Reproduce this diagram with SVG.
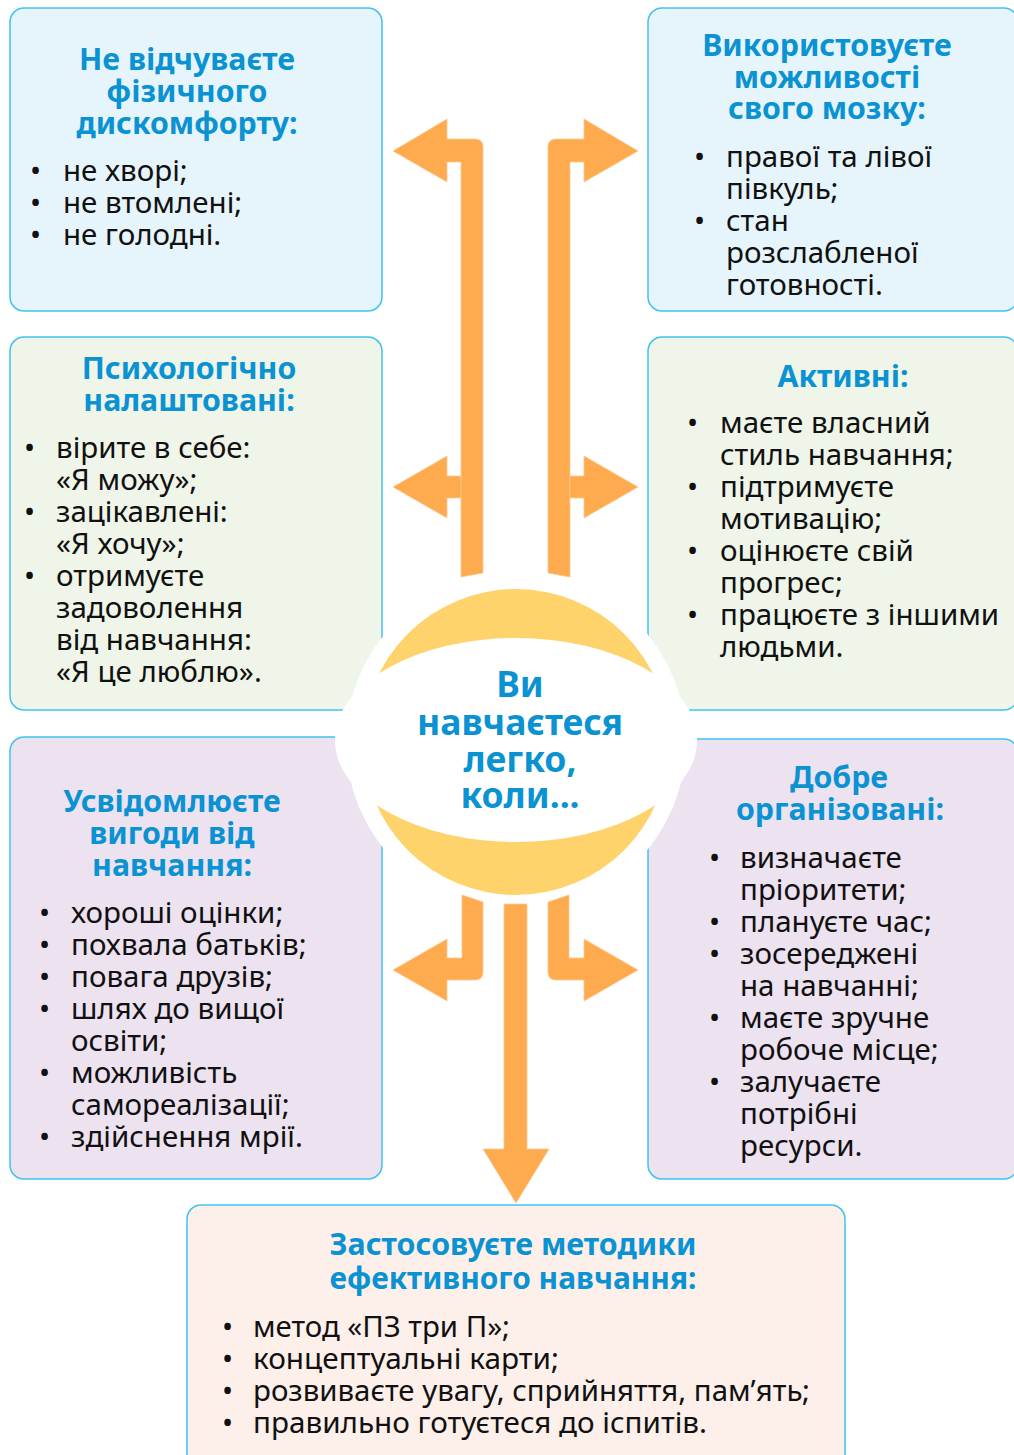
<svg xmlns="http://www.w3.org/2000/svg" width="1014" height="1455" viewBox="0 0 1014 1455">
<style>
.box{stroke:#3EC3EF;stroke-width:1.5}
.blue{fill:#E6F5FC}.green{fill:#EFF5E8}.lav{fill:#EDE2F0}.peach{fill:#FDEFEA}
.t{font-family:"Noto Sans","Open Sans",sans-serif;font-weight:bold;font-size:30.3px;fill:#0A92D2;text-anchor:middle}
.b{font-family:"Noto Sans","Open Sans",sans-serif;font-size:29.5px;fill:#111}
.c{font-family:"Noto Sans","Open Sans",sans-serif;font-weight:bold;font-size:35.5px;fill:#0A92D2;text-anchor:middle}
.arr{fill:#FEAB50;stroke:#FFC890;stroke-width:0.8}
</style>
<rect width="1014" height="1455" fill="#fff"/>

<g id="box1">
<rect class="box blue" x="10" y="8" width="372" height="303" rx="14"/>
<text class="t" x="187" y="70">Не відчуваєте</text>
<text class="t" x="187" y="102">фізичного</text>
<text class="t" x="187" y="134">дискомфорту:</text>
<g class="b">
<text x="30" y="181">•</text><text x="63" y="181">не хворі;</text>
<text x="30" y="213">•</text><text x="63" y="213">не втомлені;</text>
<text x="30" y="245">•</text><text x="63" y="245">не голодні.</text>
</g>
</g>

<g id="box2">
<rect class="box blue" x="648" y="8" width="370" height="303" rx="14"/>
<text class="t" x="827" y="56">Використовуєте</text>
<text class="t" x="827" y="88">можливості</text>
<text class="t" x="827" y="119">свого мозку:</text>
<g class="b">
<text x="694" y="167">•</text><text x="726" y="167">правої та лівої</text>
<text x="726" y="199">півкуль;</text>
<text x="694" y="231">•</text><text x="726" y="231">стан</text>
<text x="726" y="263">розслабленої</text>
<text x="726" y="295">готовності.</text>
</g>
</g>

<g id="box3">
<rect class="box green" x="10" y="337" width="372" height="373" rx="14"/>
<text class="t" x="189" y="379">Психологічно</text>
<text class="t" x="189" y="411">налаштовані:</text>
<g class="b">
<text x="24" y="458">•</text><text x="56" y="458">вірите в себе:</text>
<text x="56" y="490">«Я можу»;</text>
<text x="24" y="522">•</text><text x="56" y="522">зацікавлені:</text>
<text x="56" y="554">«Я хочу»;</text>
<text x="24" y="586">•</text><text x="56" y="586">отримуєте</text>
<text x="56" y="618">задоволення</text>
<text x="56" y="650">від навчання:</text>
<text x="56" y="682">«Я це люблю».</text>
</g>
</g>

<g id="box4">
<rect class="box green" x="648" y="337" width="370" height="373" rx="14"/>
<text class="t" x="843" y="387">Активні:</text>
<g class="b">
<text x="687" y="433">•</text><text x="720" y="433">маєте власний</text>
<text x="720" y="465">стиль навчання;</text>
<text x="687" y="497">•</text><text x="720" y="497">підтримуєте</text>
<text x="720" y="529">мотивацію;</text>
<text x="687" y="561">•</text><text x="720" y="561">оцінюєте свій</text>
<text x="720" y="593">прогрес;</text>
<text x="687" y="625">•</text><text x="720" y="625">працюєте з іншими</text>
<text x="720" y="657">людьми.</text>
</g>
</g>

<g id="box5">
<rect class="box lav" x="10" y="737" width="372" height="442" rx="14"/>
<text class="t" x="172" y="812">Усвідомлюєте</text>
<text class="t" x="172" y="844">вигоди від</text>
<text class="t" x="172" y="876">навчання:</text>
<g class="b">
<text x="39" y="923">•</text><text x="71" y="923">хороші оцінки;</text>
<text x="39" y="955">•</text><text x="71" y="955">похвала батьків;</text>
<text x="39" y="987">•</text><text x="71" y="987">повага друзів;</text>
<text x="39" y="1019">•</text><text x="71" y="1019">шлях до вищої</text>
<text x="71" y="1051">освіти;</text>
<text x="39" y="1083">•</text><text x="71" y="1083">можливість</text>
<text x="71" y="1115">самореалізації;</text>
<text x="39" y="1147">•</text><text x="71" y="1147">здійснення мрії.</text>
</g>
</g>

<g id="box6">
<rect class="box lav" x="648" y="739" width="370" height="440" rx="14"/>
<text class="t" x="839" y="788">Добре</text>
<text class="t" x="840" y="820">організовані:</text>
<g class="b">
<text x="709" y="868">•</text><text x="740" y="868">визначаєте</text>
<text x="740" y="900">пріоритети;</text>
<text x="709" y="932">•</text><text x="740" y="932">плануєте час;</text>
<text x="709" y="964">•</text><text x="740" y="964">зосереджені</text>
<text x="740" y="996">на навчанні;</text>
<text x="709" y="1028">•</text><text x="740" y="1028">маєте зручне</text>
<text x="740" y="1060">робоче місце;</text>
<text x="709" y="1092">•</text><text x="740" y="1092">залучаєте</text>
<text x="740" y="1124">потрібні</text>
<text x="740" y="1156">ресурси.</text>
</g>
</g>

<g id="box7">
<rect class="box peach" x="187" y="1205" width="658" height="270" rx="14"/>
<text class="t" x="513" y="1255" textLength="367" lengthAdjust="spacingAndGlyphs">Застосовуєте методики</text>
<text class="t" x="513" y="1289" textLength="367" lengthAdjust="spacingAndGlyphs">ефективного навчання:</text>
<g class="b">
<text x="222" y="1337">•</text><text x="253" y="1337" textLength="257" lengthAdjust="spacingAndGlyphs">метод «ПЗ три П»;</text>
<text x="222" y="1369">•</text><text x="253" y="1369" textLength="306" lengthAdjust="spacingAndGlyphs">концептуальні карти;</text>
<text x="222" y="1401">•</text><text x="253" y="1401" textLength="557" lengthAdjust="spacingAndGlyphs">розвиваєте увагу, сприйняття, пам’ять;</text>
<text x="222" y="1433">•</text><text x="253" y="1433" textLength="454" lengthAdjust="spacingAndGlyphs">правильно готуєтеся до іспитів.</text>
</g>
</g>

<g id="center-halo">
<circle cx="516" cy="742" r="170" fill="#fff"/>
<ellipse cx="516" cy="740" rx="181" ry="102" fill="#fff"/>
</g>

<g id="connectors">
<path class="arr" d="M461,577 L483,573 V147 Q483,139 475,139 H447 V119 L393,151 L447,182 V162 H461 Z"/>
<path class="arr" d="M570,577 L548,573 V147 Q548,139 556,139 H584 V119 L638,151 L584,182 V162 H570 Z"/>
<path class="arr" d="M461,476 H447 V456 L393,487 L447,518 V498 H461 Z"/>
<path class="arr" d="M570,476 H584 V456 L638,487 L584,518 V498 H570 Z"/>
<path class="arr" d="M462,895 V958 H447 V939 L393,970 L447,1001 V980 H475 Q483,980 483,972 V902 Z"/>
<path class="arr" d="M569,895 V958 H584 V939 L638,970 L584,1001 V980 H556 Q548,980 548,972 V902 Z"/>
<path class="arr" d="M504,904 V1149 H483 L516,1203 L549,1149 H527 V904 Z"/>
</g>

<g id="center">
<circle cx="516" cy="742" r="153" fill="#FED36B"/>
<ellipse cx="516" cy="740" rx="181" ry="102" fill="#fff"/>
<text class="c" x="520" y="697">Ви</text>
<text class="c" x="520" y="735">навчаєтеся</text>
<text class="c" x="520" y="772">легко,</text>
<text class="c" x="520" y="808">коли...</text>
</g>
</svg>
